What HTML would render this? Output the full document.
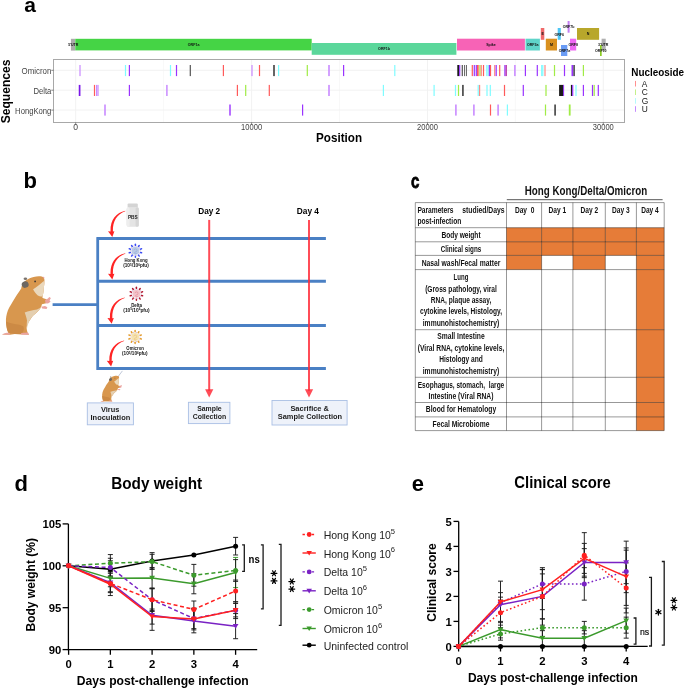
<!DOCTYPE html>
<html><head><meta charset="utf-8"><title>Figure</title>
<style>
html,body{margin:0;padding:0;background:#fff;}
body{width:685px;height:689px;overflow:hidden;}
svg{display:block;will-change:transform;font-family:"Liberation Sans", sans-serif;}
</style></head>
<body>
<svg width="685" height="689" viewBox="0 0 685 689">
<rect width="685" height="689" fill="#fff"/>
<text x="24.3" y="12.1" font-size="21" font-weight="bold" text-anchor="start" fill="#000" >a</text>
<rect x="70.9" y="38.8" width="4.4" height="11.8" fill="#ababab"/>
<rect x="75.3" y="38.8" width="236.4" height="11.6" fill="#45d445"/>
<rect x="311.7" y="43.0" width="144.7" height="11.8" fill="#5bd79b"/>
<rect x="457.0" y="38.7" width="67.9" height="11.8" fill="#f763b6"/>
<rect x="525.5" y="38.7" width="14.4" height="11.8" fill="#5fd4c9"/>
<rect x="540.8" y="28.0" width="3.5" height="11.8" fill="#f06a6a"/>
<rect x="545.8" y="38.7" width="11.2" height="11.8" fill="#d9901f"/>
<rect x="557.7" y="28.0" width="3.1" height="11.8" fill="#4dc6f5"/>
<rect x="561.0" y="45.0" width="6.3" height="11.0" fill="#6a9cf5"/>
<rect x="567.6" y="21.0" width="2.0" height="11.7" fill="#c27ef2"/>
<rect x="570.0" y="38.7" width="6.2" height="11.8" fill="#ef67f3"/>
<rect x="577.0" y="28.0" width="22.1" height="11.8" fill="#b8a72b"/>
<rect x="601.6" y="38.7" width="4.1" height="11.8" fill="#b0b0b0"/>
<rect x="600.0" y="45.0" width="1.7" height="11.0" fill="#8acb22"/>
<text x="73.3" y="45.9" font-size="3.6" font-weight="bold" text-anchor="middle" fill="#111" >5'UTR</text>
<text x="193.6" y="45.9" font-size="3.6" font-weight="bold" text-anchor="middle" fill="#111" >ORF1a</text>
<text x="384" y="50.3" font-size="3.6" font-weight="bold" text-anchor="middle" fill="#111" >ORF1b</text>
<text x="491" y="45.9" font-size="3.6" font-weight="bold" text-anchor="middle" fill="#111" >Spike</text>
<text x="532.7" y="45.9" font-size="3.6" font-weight="bold" text-anchor="middle" fill="#111" >ORF3a</text>
<text x="542.6" y="35.3" font-size="3.6" font-weight="bold" text-anchor="middle" fill="#111" >E</text>
<text x="551.4" y="45.9" font-size="3.6" font-weight="bold" text-anchor="middle" fill="#111" >M</text>
<text x="559.2" y="35.5" font-size="3.6" font-weight="bold" text-anchor="middle" fill="#111" >ORF6</text>
<text x="564.5" y="52.3" font-size="3.6" font-weight="bold" text-anchor="middle" fill="#111" >ORF7a</text>
<text x="568.6" y="28.3" font-size="3.6" font-weight="bold" text-anchor="middle" fill="#111" >ORF7b</text>
<text x="573.2" y="46.0" font-size="3.6" font-weight="bold" text-anchor="middle" fill="#111" >ORF8</text>
<text x="588" y="35.3" font-size="3.6" font-weight="bold" text-anchor="middle" fill="#111" >N</text>
<text x="603.2" y="46.0" font-size="3.6" font-weight="bold" text-anchor="middle" fill="#111" >3'UTR</text>
<text x="600.8" y="52.3" font-size="3.6" font-weight="bold" text-anchor="middle" fill="#111" >ORF10</text>
<rect x="53.5" y="59.5" width="571.0" height="63.0" fill="#fff"/>
<line x1="75.7" y1="59.5" x2="75.7" y2="122.5" stroke="#f0f0f0" stroke-width="0.9"/>
<line x1="251.6" y1="59.5" x2="251.6" y2="122.5" stroke="#f0f0f0" stroke-width="0.9"/>
<line x1="427.5" y1="59.5" x2="427.5" y2="122.5" stroke="#f0f0f0" stroke-width="0.9"/>
<line x1="603.3" y1="59.5" x2="603.3" y2="122.5" stroke="#f0f0f0" stroke-width="0.9"/>
<line x1="163.6" y1="59.5" x2="163.6" y2="122.5" stroke="#f4f4f4" stroke-width="0.6"/>
<line x1="339.5" y1="59.5" x2="339.5" y2="122.5" stroke="#f4f4f4" stroke-width="0.6"/>
<line x1="515.4" y1="59.5" x2="515.4" y2="122.5" stroke="#f4f4f4" stroke-width="0.6"/>
<line x1="53.5" y1="70.3" x2="624.5" y2="70.3" stroke="#f0f0f0" stroke-width="0.9"/>
<line x1="53.5" y1="90.2" x2="624.5" y2="90.2" stroke="#f0f0f0" stroke-width="0.9"/>
<line x1="53.5" y1="110.1" x2="624.5" y2="110.1" stroke="#f0f0f0" stroke-width="0.9"/>
<rect x="79.4" y="65.0" width="1.2" height="11.1" fill="#c98aff"/>
<rect x="124.9" y="65.0" width="1.2" height="11.1" fill="#7ffcff"/>
<rect x="128.8" y="65.0" width="1.2" height="11.1" fill="#9a33ff"/>
<rect x="169.9" y="65.0" width="1.2" height="11.1" fill="#7ffcff"/>
<rect x="175.9" y="65.0" width="1.2" height="11.1" fill="#9a33ff"/>
<rect x="189.7" y="65.0" width="1.2" height="11.1" fill="#555555"/>
<rect x="222.8" y="65.0" width="1.2" height="11.1" fill="#ff5a5a"/>
<rect x="251.4" y="65.0" width="1.2" height="11.1" fill="#c98aff"/>
<rect x="258.9" y="65.0" width="1.2" height="11.1" fill="#ff5a5a"/>
<rect x="273.1" y="65.0" width="1.8" height="11.1" fill="#555555"/>
<rect x="278.0" y="65.0" width="1.2" height="11.1" fill="#7ffcff"/>
<rect x="306.7" y="65.0" width="1.2" height="11.1" fill="#a0ec45"/>
<rect x="328.2" y="65.0" width="1.6" height="11.1" fill="#c98aff"/>
<rect x="343.0" y="65.0" width="1.2" height="11.1" fill="#9a33ff"/>
<rect x="394.2" y="65.0" width="1.2" height="11.1" fill="#7ffcff"/>
<rect x="457.3" y="65.0" width="1.8" height="11.1" fill="#1a1a1a"/>
<rect x="459.1" y="65.0" width="1.2" height="11.1" fill="#9a33ff"/>
<rect x="461.7" y="65.0" width="1.2" height="11.1" fill="#555555"/>
<rect x="464.15" y="65.0" width="0.9" height="11.1" fill="#555555"/>
<rect x="465.95" y="65.0" width="0.9" height="11.1" fill="#555555"/>
<rect x="471.7" y="65.0" width="1.2" height="11.1" fill="#ff5a5a"/>
<rect x="473.7" y="65.0" width="1.2" height="11.1" fill="#9a33ff"/>
<rect x="475.7" y="65.0" width="1.2" height="11.1" fill="#9a33ff"/>
<rect x="477.0" y="65.0" width="1.2" height="11.1" fill="#ff5a5a"/>
<rect x="478.0" y="65.0" width="1.2" height="11.1" fill="#ff8a85"/>
<rect x="479.4" y="65.0" width="1.2" height="11.1" fill="#a0ec45"/>
<rect x="480.7" y="65.0" width="1.2" height="11.1" fill="#ff8a85"/>
<rect x="482.9" y="65.0" width="1.2" height="11.1" fill="#ff5a5a"/>
<rect x="486.2" y="65.0" width="1.2" height="11.1" fill="#7ffcff"/>
<rect x="487.5" y="65.0" width="1.2" height="11.1" fill="#7ffcff"/>
<rect x="488.8" y="65.0" width="1.2" height="11.1" fill="#9a33ff"/>
<rect x="489.9" y="65.0" width="1.2" height="11.1" fill="#ff5a5a"/>
<rect x="494.1" y="65.0" width="1.2" height="11.1" fill="#ff8a85"/>
<rect x="495.6" y="65.0" width="1.2" height="11.1" fill="#9a33ff"/>
<rect x="499.1" y="65.0" width="1.2" height="11.1" fill="#ff5a5a"/>
<rect x="504.3" y="65.0" width="1.2" height="11.1" fill="#9a33ff"/>
<rect x="505.6" y="65.0" width="1.2" height="11.1" fill="#b0209f"/>
<rect x="514.1" y="65.0" width="1.6" height="11.1" fill="#c98aff"/>
<rect x="524.8" y="65.0" width="1.2" height="11.1" fill="#9a33ff"/>
<rect x="536.7" y="65.0" width="1.2" height="11.1" fill="#9a33ff"/>
<rect x="541.1" y="65.0" width="1.2" height="11.1" fill="#7ffcff"/>
<rect x="542.2" y="65.0" width="1.2" height="11.1" fill="#7ffcff"/>
<rect x="544.4" y="65.0" width="1.2" height="11.1" fill="#ff8a85"/>
<rect x="553.9" y="65.0" width="1.2" height="11.1" fill="#a0ec45"/>
<rect x="563.9" y="65.0" width="1.2" height="11.1" fill="#9a33ff"/>
<rect x="571.5" y="65.0" width="1.8" height="11.1" fill="#9a33ff"/>
<rect x="573.5" y="65.0" width="1.2" height="11.1" fill="#1a1a1a"/>
<rect x="582.8" y="65.0" width="1.2" height="11.1" fill="#a0ec45"/>
<rect x="78.75" y="84.9" width="1.7" height="11.1" fill="#7a16e8"/>
<rect x="93.9" y="84.9" width="1.2" height="11.1" fill="#ff5a5a"/>
<rect x="96.0" y="84.9" width="1.2" height="11.1" fill="#c98aff"/>
<rect x="97.4" y="84.9" width="1.2" height="11.1" fill="#c98aff"/>
<rect x="128.8" y="84.9" width="1.2" height="11.1" fill="#9a33ff"/>
<rect x="166.15" y="84.9" width="1.5" height="11.1" fill="#c98aff"/>
<rect x="236.8" y="84.9" width="1.2" height="11.1" fill="#ff5a5a"/>
<rect x="245.1" y="84.9" width="1.2" height="11.1" fill="#a0ec45"/>
<rect x="268.7" y="84.9" width="1.2" height="11.1" fill="#ff5a5a"/>
<rect x="328.2" y="84.9" width="1.6" height="11.1" fill="#c98aff"/>
<rect x="382.8" y="84.9" width="1.2" height="11.1" fill="#7ffcff"/>
<rect x="433.5" y="84.9" width="1.2" height="11.1" fill="#7ffcff"/>
<rect x="454.9" y="84.9" width="1.2" height="11.1" fill="#7ffcff"/>
<rect x="457.9" y="84.9" width="1.2" height="11.1" fill="#a0ec45"/>
<rect x="462.0" y="84.9" width="1.8" height="11.1" fill="#555555"/>
<rect x="477.6" y="84.9" width="1.2" height="11.1" fill="#7ffcff"/>
<rect x="479.0" y="84.9" width="1.2" height="11.1" fill="#ff8a85"/>
<rect x="486.4" y="84.9" width="1.2" height="11.1" fill="#7ffcff"/>
<rect x="489.7" y="84.9" width="1.2" height="11.1" fill="#7ffcff"/>
<rect x="503.9" y="84.9" width="1.2" height="11.1" fill="#ff5a5a"/>
<rect x="522.7" y="84.9" width="1.2" height="11.1" fill="#9a33ff"/>
<rect x="545.4" y="84.9" width="1.2" height="11.1" fill="#a0ec45"/>
<rect x="559.1" y="84.9" width="4.4" height="11.1" fill="#1a1a1a"/>
<rect x="563.1" y="84.9" width="1.0" height="11.1" fill="#9a33ff"/>
<rect x="570.9" y="84.9" width="1.2" height="11.1" fill="#1a1a1a"/>
<rect x="572.1" y="84.9" width="1.2" height="11.1" fill="#9a33ff"/>
<rect x="575.4" y="84.9" width="1.2" height="11.1" fill="#7ffcff"/>
<rect x="582.8" y="84.9" width="1.2" height="11.1" fill="#9a33ff"/>
<rect x="591.9" y="84.9" width="1.2" height="11.1" fill="#9a33ff"/>
<rect x="593.6" y="84.9" width="1.2" height="11.1" fill="#a0ec45"/>
<rect x="597.7" y="84.9" width="1.2" height="11.1" fill="#9a33ff"/>
<rect x="104.2" y="104.5" width="1.6" height="11.1" fill="#c98aff"/>
<rect x="229.3" y="104.5" width="1.4" height="11.1" fill="#9a33ff"/>
<rect x="302.0" y="104.5" width="1.2" height="11.1" fill="#9a33ff"/>
<rect x="455.1" y="104.5" width="1.6" height="11.1" fill="#c98aff"/>
<rect x="473.1" y="104.5" width="1.6" height="11.1" fill="#c98aff"/>
<rect x="489.9" y="104.5" width="1.2" height="11.1" fill="#ff5a5a"/>
<rect x="497.3" y="104.5" width="1.6" height="11.1" fill="#c98aff"/>
<rect x="506.8" y="104.5" width="1.2" height="11.1" fill="#7ffcff"/>
<rect x="544.9" y="104.5" width="1.2" height="11.1" fill="#a0ec45"/>
<rect x="554.2" y="104.5" width="1.8" height="11.1" fill="#555555"/>
<rect x="568.8" y="104.5" width="1.8" height="11.1" fill="#a0ec45"/>
<rect x="53.5" y="59.5" width="571.0" height="63.0" fill="none" stroke="#a8a8a8" stroke-width="1"/>
<text x="51.3" y="74.2" font-size="8.8" text-anchor="end" fill="#444" textLength="29.7" lengthAdjust="spacingAndGlyphs" >Omicron</text>
<line x1="51.3" y1="70.3" x2="53.5" y2="70.3" stroke="#555" stroke-width="0.7"/>
<text x="51.3" y="93.7" font-size="8.8" text-anchor="end" fill="#444" textLength="17.9" lengthAdjust="spacingAndGlyphs" >Delta</text>
<line x1="51.3" y1="90.2" x2="53.5" y2="90.2" stroke="#555" stroke-width="0.7"/>
<text x="51.3" y="114.1" font-size="8.8" text-anchor="end" fill="#444" textLength="36.2" lengthAdjust="spacingAndGlyphs" >HongKong</text>
<line x1="51.3" y1="110.10000000000001" x2="53.5" y2="110.10000000000001" stroke="#555" stroke-width="0.7"/>
<text x="75.7" y="130.0" font-size="8.6" text-anchor="middle" fill="#444" >0</text>
<line x1="75.7" y1="122.5" x2="75.7" y2="124.5" stroke="#555" stroke-width="0.7"/>
<text x="251.6" y="130.0" font-size="8.6" text-anchor="middle" fill="#444" textLength="21.0" lengthAdjust="spacingAndGlyphs" >10000</text>
<line x1="251.6" y1="122.5" x2="251.6" y2="124.5" stroke="#555" stroke-width="0.7"/>
<text x="427.5" y="130.0" font-size="8.6" text-anchor="middle" fill="#444" textLength="21.0" lengthAdjust="spacingAndGlyphs" >20000</text>
<line x1="427.5" y1="122.5" x2="427.5" y2="124.5" stroke="#555" stroke-width="0.7"/>
<text x="603.3" y="130.0" font-size="8.6" text-anchor="middle" fill="#444" textLength="21.0" lengthAdjust="spacingAndGlyphs" >30000</text>
<line x1="603.3" y1="122.5" x2="603.3" y2="124.5" stroke="#555" stroke-width="0.7"/>
<text x="339.1" y="141.9" font-size="12.8" font-weight="bold" text-anchor="middle" fill="#000" textLength="46.0" lengthAdjust="spacingAndGlyphs" >Position</text>
<text transform="translate(9.719999999999999,91.4) rotate(-90)" x="0" y="0" font-size="12" font-weight="bold" text-anchor="middle" textLength="63.9" lengthAdjust="spacingAndGlyphs">Sequences</text>
<text x="631.3" y="76.31" font-size="10.3" font-weight="bold" text-anchor="start" fill="#000" textLength="52.8" lengthAdjust="spacingAndGlyphs" >Nucleoside</text>
<rect x="635" y="80.9" width="1" height="5.6" fill="#ff8f8f"/>
<text x="641.8" y="86.72" font-size="8.4" text-anchor="start" fill="#1a1a1a" >A</text>
<rect x="635" y="89.4" width="1" height="5.6" fill="#c4f08a"/>
<text x="641.8" y="95.22" font-size="8.4" text-anchor="start" fill="#1a1a1a" >C</text>
<rect x="635" y="98.10000000000001" width="1" height="5.6" fill="#b4fafc"/>
<text x="641.8" y="103.92" font-size="8.4" text-anchor="start" fill="#1a1a1a" >G</text>
<rect x="635" y="106.2" width="1" height="5.6" fill="#c48cff"/>
<text x="641.8" y="112.02" font-size="8.4" text-anchor="start" fill="#1a1a1a" >U</text>
<text x="23.6" y="188.1" font-size="22" font-weight="bold" text-anchor="start" fill="#000" >b</text>
<line x1="97" y1="238.6" x2="325.9" y2="238.6" stroke="#4a80c4" stroke-width="3"/>
<line x1="97" y1="281.3" x2="325.9" y2="281.3" stroke="#4a80c4" stroke-width="3"/>
<line x1="97" y1="325.5" x2="325.9" y2="325.5" stroke="#4a80c4" stroke-width="3"/>
<line x1="97" y1="368.5" x2="325.9" y2="368.5" stroke="#4a80c4" stroke-width="3"/>
<line x1="97.7" y1="237.1" x2="97.7" y2="370.0" stroke="#4a80c4" stroke-width="2.8"/>
<line x1="52.6" y1="304.6" x2="97.7" y2="304.6" stroke="#4a80c4" stroke-width="2.8"/>
<path d="M125.3,210.8 C116.5,212.8 110.2,219.0 110.5,231.4 L108.0,231.2 L112.3,237.0 L114.4,231.2 L112.9,231.4 C112.6,221.0 117,214.2 125.3,211.3 Z" fill="#ff2424"/>
<path d="M125.3,253.3 C116.5,255.3 110.2,261.5 110.5,273.9 L108.0,273.7 L112.3,279.5 L114.4,273.7 L112.9,273.9 C112.6,263.5 117,256.7 125.3,253.8 Z" fill="#ff2424"/>
<path d="M124.7,297.6 C115.9,299.6 109.60000000000001,305.8 109.9,318.2 L107.4,318.0 L111.7,323.8 L113.80000000000001,318.0 L112.30000000000001,318.2 C112.0,307.8 116.4,301.0 124.7,298.1 Z" fill="#ff2424"/>
<path d="M124.1,340.40000000000003 C115.3,342.40000000000003 109.0,348.6 109.3,361.0 L106.8,360.8 L111.1,366.6 L113.2,360.8 L111.7,361.0 C111.39999999999999,350.6 115.8,343.8 124.1,340.90000000000003 Z" fill="#ff2424"/>
<line x1="209.2" y1="219.9" x2="209.2" y2="391" stroke="#ff2d3a" stroke-width="2" opacity="0.85"/>
<path d="M205.1,389.2 L213.29999999999998,389.2 L209.2,397.6 Z" fill="#ff2d3a" opacity="0.85"/>
<line x1="309.0" y1="219.9" x2="309.0" y2="391" stroke="#ff2d3a" stroke-width="2" opacity="0.85"/>
<path d="M304.9,389.2 L313.1,389.2 L309.0,397.6 Z" fill="#ff2d3a" opacity="0.85"/>
<text x="209.2" y="214.0" font-size="8.3" font-weight="bold" text-anchor="middle" fill="#000" textLength="22.0" lengthAdjust="spacingAndGlyphs" >Day 2</text>
<text x="307.9" y="214.0" font-size="8.3" font-weight="bold" text-anchor="middle" fill="#000" textLength="22.2" lengthAdjust="spacingAndGlyphs" >Day 4</text>
<rect x="87.3" y="402.9" width="46.1" height="21.9" fill="#eef2fa" stroke="#a9bfe4" stroke-width="0.9"/>
<rect x="188.4" y="402.3" width="41.5" height="21.3" fill="#eef2fa" stroke="#a9bfe4" stroke-width="0.9"/>
<rect x="272.0" y="400.5" width="75.1" height="24.5" fill="#eef2fa" stroke="#a9bfe4" stroke-width="0.9"/>
<text x="110.2" y="412.01" font-size="7.6" font-weight="bold" text-anchor="middle" fill="#1c1c1c" textLength="18.4" lengthAdjust="spacingAndGlyphs" >Virus</text>
<text x="110.4" y="420.41" font-size="7.6" font-weight="bold" text-anchor="middle" fill="#1c1c1c" textLength="39.8" lengthAdjust="spacingAndGlyphs" >Inoculation</text>
<text x="209.4" y="411.01" font-size="7.6" font-weight="bold" text-anchor="middle" fill="#1c1c1c" textLength="24.5" lengthAdjust="spacingAndGlyphs" >Sample</text>
<text x="209.4" y="419.41" font-size="7.6" font-weight="bold" text-anchor="middle" fill="#1c1c1c" textLength="33.5" lengthAdjust="spacingAndGlyphs" >Collection</text>
<text x="309.7" y="411.01" font-size="7.6" font-weight="bold" text-anchor="middle" fill="#1c1c1c" textLength="38.6" lengthAdjust="spacingAndGlyphs" >Sacrifice &amp;</text>
<text x="309.9" y="419.41" font-size="7.6" font-weight="bold" text-anchor="middle" fill="#1c1c1c" textLength="64.4" lengthAdjust="spacingAndGlyphs" >Sample Collection</text>
<rect x="127.6" y="203.4" width="10.2" height="4.4" rx="1" fill="#d4d4d4"/>
<rect x="126.6" y="207.3" width="12.2" height="19.4" rx="2.2" fill="#e4e4e4"/>
<rect x="126.6" y="207.3" width="3" height="19.4" rx="1.5" fill="#eeeeee"/>
<rect x="135.6" y="207.3" width="3.2" height="19.4" rx="1.5" fill="#d6d6d6"/>
<text x="132.8" y="219.0" font-size="4.8" font-weight="bold" text-anchor="middle" fill="#222" textLength="9.8" lengthAdjust="spacingAndGlyphs" >PBS</text>
<circle cx="136.91" cy="246.14" r="0.55" fill="#c8b0d8"/>
<circle cx="139.36" cy="247.92" r="0.55" fill="#c8b0d8"/>
<circle cx="140.30" cy="250.80" r="0.55" fill="#c8b0d8"/>
<circle cx="139.36" cy="253.68" r="0.55" fill="#c8b0d8"/>
<circle cx="136.91" cy="255.46" r="0.55" fill="#c8b0d8"/>
<circle cx="133.89" cy="255.46" r="0.55" fill="#c8b0d8"/>
<circle cx="131.44" cy="253.68" r="0.55" fill="#c8b0d8"/>
<circle cx="130.50" cy="250.80" r="0.55" fill="#c8b0d8"/>
<circle cx="131.44" cy="247.92" r="0.55" fill="#c8b0d8"/>
<circle cx="133.89" cy="246.14" r="0.55" fill="#c8b0d8"/>
<circle cx="135.4" cy="250.8" r="4.0" fill="#bccbe6"/>
<line x1="135.40" y1="245.50" x2="135.40" y2="244.30" stroke="#3b4cf2" stroke-width="1.45" stroke-linecap="round"/>
<line x1="138.52" y1="246.51" x2="139.22" y2="245.54" stroke="#3b4cf2" stroke-width="1.45" stroke-linecap="round"/>
<line x1="140.44" y1="249.16" x2="141.58" y2="248.79" stroke="#3b4cf2" stroke-width="1.45" stroke-linecap="round"/>
<line x1="140.44" y1="252.44" x2="141.58" y2="252.81" stroke="#3b4cf2" stroke-width="1.45" stroke-linecap="round"/>
<line x1="138.52" y1="255.09" x2="139.22" y2="256.06" stroke="#3b4cf2" stroke-width="1.45" stroke-linecap="round"/>
<line x1="135.40" y1="256.10" x2="135.40" y2="257.30" stroke="#3b4cf2" stroke-width="1.45" stroke-linecap="round"/>
<line x1="132.28" y1="255.09" x2="131.58" y2="256.06" stroke="#3b4cf2" stroke-width="1.45" stroke-linecap="round"/>
<line x1="130.36" y1="252.44" x2="129.22" y2="252.81" stroke="#3b4cf2" stroke-width="1.45" stroke-linecap="round"/>
<line x1="130.36" y1="249.16" x2="129.22" y2="248.79" stroke="#3b4cf2" stroke-width="1.45" stroke-linecap="round"/>
<line x1="132.28" y1="246.51" x2="131.58" y2="245.54" stroke="#3b4cf2" stroke-width="1.45" stroke-linecap="round"/>
<path d="M134.0,250.20000000000002 a1.5,1.5 0 1 1 1.4,1.7 a1,1 0 1 0 1.2,1" fill="none" stroke="#7e98d0" stroke-width="0.5" opacity="0.8"/>
<circle cx="137.91" cy="289.14" r="0.55" fill="#c8b0d8"/>
<circle cx="140.36" cy="290.92" r="0.55" fill="#c8b0d8"/>
<circle cx="141.30" cy="293.80" r="0.55" fill="#c8b0d8"/>
<circle cx="140.36" cy="296.68" r="0.55" fill="#c8b0d8"/>
<circle cx="137.91" cy="298.46" r="0.55" fill="#c8b0d8"/>
<circle cx="134.89" cy="298.46" r="0.55" fill="#c8b0d8"/>
<circle cx="132.44" cy="296.68" r="0.55" fill="#c8b0d8"/>
<circle cx="131.50" cy="293.80" r="0.55" fill="#c8b0d8"/>
<circle cx="132.44" cy="290.92" r="0.55" fill="#c8b0d8"/>
<circle cx="134.89" cy="289.14" r="0.55" fill="#c8b0d8"/>
<circle cx="136.4" cy="293.8" r="4.0" fill="#f2c4cb"/>
<line x1="136.40" y1="288.50" x2="136.40" y2="287.30" stroke="#b0182f" stroke-width="1.45" stroke-linecap="round"/>
<line x1="139.52" y1="289.51" x2="140.22" y2="288.54" stroke="#b0182f" stroke-width="1.45" stroke-linecap="round"/>
<line x1="141.44" y1="292.16" x2="142.58" y2="291.79" stroke="#b0182f" stroke-width="1.45" stroke-linecap="round"/>
<line x1="141.44" y1="295.44" x2="142.58" y2="295.81" stroke="#b0182f" stroke-width="1.45" stroke-linecap="round"/>
<line x1="139.52" y1="298.09" x2="140.22" y2="299.06" stroke="#b0182f" stroke-width="1.45" stroke-linecap="round"/>
<line x1="136.40" y1="299.10" x2="136.40" y2="300.30" stroke="#b0182f" stroke-width="1.45" stroke-linecap="round"/>
<line x1="133.28" y1="298.09" x2="132.58" y2="299.06" stroke="#b0182f" stroke-width="1.45" stroke-linecap="round"/>
<line x1="131.36" y1="295.44" x2="130.22" y2="295.81" stroke="#b0182f" stroke-width="1.45" stroke-linecap="round"/>
<line x1="131.36" y1="292.16" x2="130.22" y2="291.79" stroke="#b0182f" stroke-width="1.45" stroke-linecap="round"/>
<line x1="133.28" y1="289.51" x2="132.58" y2="288.54" stroke="#b0182f" stroke-width="1.45" stroke-linecap="round"/>
<path d="M135.0,293.2 a1.5,1.5 0 1 1 1.4,1.7 a1,1 0 1 0 1.2,1" fill="none" stroke="#e06878" stroke-width="0.5" opacity="0.8"/>
<circle cx="136.61" cy="332.34" r="0.55" fill="#c8b0d8"/>
<circle cx="139.06" cy="334.12" r="0.55" fill="#c8b0d8"/>
<circle cx="140.00" cy="337.00" r="0.55" fill="#c8b0d8"/>
<circle cx="139.06" cy="339.88" r="0.55" fill="#c8b0d8"/>
<circle cx="136.61" cy="341.66" r="0.55" fill="#c8b0d8"/>
<circle cx="133.59" cy="341.66" r="0.55" fill="#c8b0d8"/>
<circle cx="131.14" cy="339.88" r="0.55" fill="#c8b0d8"/>
<circle cx="130.20" cy="337.00" r="0.55" fill="#c8b0d8"/>
<circle cx="131.14" cy="334.12" r="0.55" fill="#c8b0d8"/>
<circle cx="133.59" cy="332.34" r="0.55" fill="#c8b0d8"/>
<circle cx="135.1" cy="337.0" r="4.0" fill="#f5e2b0"/>
<line x1="135.10" y1="331.70" x2="135.10" y2="330.50" stroke="#e39b2b" stroke-width="1.45" stroke-linecap="round"/>
<line x1="138.22" y1="332.71" x2="138.92" y2="331.74" stroke="#e39b2b" stroke-width="1.45" stroke-linecap="round"/>
<line x1="140.14" y1="335.36" x2="141.28" y2="334.99" stroke="#e39b2b" stroke-width="1.45" stroke-linecap="round"/>
<line x1="140.14" y1="338.64" x2="141.28" y2="339.01" stroke="#e39b2b" stroke-width="1.45" stroke-linecap="round"/>
<line x1="138.22" y1="341.29" x2="138.92" y2="342.26" stroke="#e39b2b" stroke-width="1.45" stroke-linecap="round"/>
<line x1="135.10" y1="342.30" x2="135.10" y2="343.50" stroke="#e39b2b" stroke-width="1.45" stroke-linecap="round"/>
<line x1="131.98" y1="341.29" x2="131.28" y2="342.26" stroke="#e39b2b" stroke-width="1.45" stroke-linecap="round"/>
<line x1="130.06" y1="338.64" x2="128.92" y2="339.01" stroke="#e39b2b" stroke-width="1.45" stroke-linecap="round"/>
<line x1="130.06" y1="335.36" x2="128.92" y2="334.99" stroke="#e39b2b" stroke-width="1.45" stroke-linecap="round"/>
<line x1="131.98" y1="332.71" x2="131.28" y2="331.74" stroke="#e39b2b" stroke-width="1.45" stroke-linecap="round"/>
<path d="M133.7,336.4 a1.5,1.5 0 1 1 1.4,1.7 a1,1 0 1 0 1.2,1" fill="none" stroke="#e0b060" stroke-width="0.5" opacity="0.8"/>
<text x="136.0" y="262.36" font-size="5.4" font-weight="bold" text-anchor="middle" fill="#111" textLength="23.0" lengthAdjust="spacingAndGlyphs" >Hong Kong</text>
<text x="136.0" y="267.42" font-size="5.0" font-weight="bold" text-anchor="middle" fill="#111" textLength="25.6" lengthAdjust="spacingAndGlyphs" >(10<tspan font-size="3.3" dy="-1.5">5</tspan><tspan dy="1.5">/10</tspan><tspan font-size="3.3" dy="-1.5">6</tspan><tspan dy="1.5">pfu)</tspan></text>
<text x="136.5" y="306.96" font-size="5.4" font-weight="bold" text-anchor="middle" fill="#111" textLength="10.7" lengthAdjust="spacingAndGlyphs" >Delta</text>
<text x="136.4" y="311.72" font-size="5.0" font-weight="bold" text-anchor="middle" fill="#111" textLength="26.2" lengthAdjust="spacingAndGlyphs" >(10<tspan font-size="3.3" dy="-1.5">5</tspan><tspan dy="1.5">/10</tspan><tspan font-size="3.3" dy="-1.5">6</tspan><tspan dy="1.5">pfu)</tspan></text>
<text x="135.1" y="350.26" font-size="5.4" font-weight="bold" text-anchor="middle" fill="#111" textLength="17.6" lengthAdjust="spacingAndGlyphs" >Omicron</text>
<text x="134.8" y="355.22" font-size="5.0" font-weight="bold" text-anchor="middle" fill="#111" textLength="25.5" lengthAdjust="spacingAndGlyphs" >(10<tspan font-size="3.3" dy="-1.5">5</tspan><tspan dy="1.5">/10</tspan><tspan font-size="3.3" dy="-1.5">6</tspan><tspan dy="1.5">pfu)</tspan></text>
<defs><g id="ham">
<path d="M41.95,1.0 C40,-0.3 36,-0.6 31.6,0.5 C28,1.5 25,2.8 22.5,5 C20.5,7 19.5,10 19.2,12 C16.5,16 13,21 10.8,25.2 C8.5,29 6,33 4.9,37.1 C3.8,41 3.6,45 4.4,48.9 C4.8,52 5.5,54.5 6.4,56.3 L0,58 L8,58.3 L12.8,57.6 L19.2,57.8 L27.1,58.3 C26,57 25.3,56 25.2,54.9 C24.7,53 24.6,51.5 24.7,50.9 C25,49.5 25.2,48 25.7,47 C26.3,46 27,45 27.6,44 C28.5,43 29,42 29.6,41 C31,39.5 32,38.3 33.6,37.1 C35,35.8 36.5,34.5 37.5,33.1 C38.5,32 39.2,31 39.5,29.7 C40.2,27 40.4,23 40.5,20.3 C41,18 41.3,16.5 41.5,15.4 C41.8,13 42,11.5 42,10.4 C42.3,8.5 42.5,7 42.4,5.5 C42.5,4 42.5,2.5 41.95,1.0 Z" fill="#d8974e"/>
<path d="M4,45 C4.2,50 5,54 6.4,56.3 L12.8,57.6 L19.2,57.8 C21.5,56 22.5,53 21.5,50 C18,47.5 11,48 4,45 Z" fill="#cc8a45"/>
<path d="M31.1,12.9 C34,11 38,8 41.8,4.5 C42.3,8 42,13 41.3,17 C41,18.5 40.6,19.5 40.2,20.2 C38.5,20 36.5,19.5 35.5,18.8 C33.5,17 32,15 31.1,12.9 Z" fill="#ead8bc"/>
<path d="M22.7,36.1 C26,34.5 31,33.5 35,33 C37,32.5 38.5,31.5 39.5,29.7 C38.5,32 37,33.8 35,35.5 C32,38 29.5,40.5 27.6,44 C26.5,46 25.5,49 25,52 C24.5,49 24.8,46 25,44 C24.5,41 23.5,38.5 22.7,36.1 Z" fill="#e4cfb0"/>
<path d="M37.5,20.5 L44.5,22.8 L45,26.5 L39,28 Z" fill="#d8974e"/>
<ellipse cx="23.2" cy="8.2" rx="3.5" ry="3.2" transform="rotate(-20 23.2 8.2)" fill="#6d6762"/>
<ellipse cx="23.4" cy="2.3" rx="1.8" ry="1.2" fill="#7a746f"/>
<circle cx="33.1" cy="5.0" r="0.85" fill="#333"/>
<circle cx="41.6" cy="1.2" r="0.8" fill="#e9a0a0"/>
<path d="M43,23.5 L46,22 L47.2,20.6 L48.9,21.6 L47.6,24 L48.6,25.4 L46,27.2 L43.5,26.8 Z" fill="#eaa3a0"/>
<path d="M39.3,30.4 L43,29.6 L45.4,30.8 L44.6,32.6 L40.2,32.1 Z" fill="#eaa3a0"/>
<path d="M0,58 C2,56.8 4,56.3 6.4,56.3 L8,57.2 L8,58.3 Z" fill="#eaa3a0"/>
<path d="M19.2,56.6 L26,56.1 L27.1,58.3 L19.2,58.3 Z" fill="#eaa3a0"/>
</g></defs>
<use href="#ham" transform="translate(2,276.4)"/>
<use href="#ham" transform="translate(100.4,375.9) scale(0.44)"/>
<line x1="118.4" y1="376.2" x2="122.4" y2="370.9" stroke="#8090b0" stroke-width="0.5"/>
<text x="411.0" y="187.8" font-size="21" font-weight="bold" text-anchor="start" fill="#000" textLength="8.4" lengthAdjust="spacingAndGlyphs" stroke="#000" stroke-width="0.8">c</text>
<text x="586.0" y="195.2" font-size="13.2" font-weight="bold" text-anchor="middle" fill="#111" textLength="122.4" lengthAdjust="spacingAndGlyphs" >Hong Kong/Delta/Omicron</text>
<line x1="506.8" y1="199.7" x2="662.6" y2="199.7" stroke="#444" stroke-width="0.9"/>
<rect x="415.3" y="202.6" width="248.9" height="228.0" fill="#fff"/>
<rect x="506.5" y="227.7" width="35.10" height="14.10" fill="#e67c38"/>
<rect x="541.6" y="227.7" width="31.30" height="14.10" fill="#e67c38"/>
<rect x="572.9" y="227.7" width="32.40" height="14.10" fill="#e67c38"/>
<rect x="605.3" y="227.7" width="31.10" height="14.10" fill="#e67c38"/>
<rect x="636.4" y="227.7" width="27.80" height="14.10" fill="#e67c38"/>
<rect x="506.5" y="241.8" width="35.10" height="13.60" fill="#e67c38"/>
<rect x="541.6" y="241.8" width="31.30" height="13.60" fill="#e67c38"/>
<rect x="572.9" y="241.8" width="32.40" height="13.60" fill="#e67c38"/>
<rect x="605.3" y="241.8" width="31.10" height="13.60" fill="#e67c38"/>
<rect x="636.4" y="241.8" width="27.80" height="13.60" fill="#e67c38"/>
<rect x="506.5" y="255.4" width="35.10" height="14.20" fill="#e67c38"/>
<rect x="572.9" y="255.4" width="32.40" height="14.20" fill="#e67c38"/>
<rect x="636.4" y="255.4" width="27.80" height="14.20" fill="#e67c38"/>
<rect x="636.4" y="269.6" width="27.80" height="60.10" fill="#e67c38"/>
<rect x="636.4" y="329.7" width="27.80" height="47.60" fill="#e67c38"/>
<rect x="636.4" y="377.3" width="27.80" height="25.20" fill="#e67c38"/>
<rect x="636.4" y="402.5" width="27.80" height="14.40" fill="#e67c38"/>
<rect x="636.4" y="416.9" width="27.80" height="13.70" fill="#e67c38"/>
<line x1="415.3" y1="202.6" x2="664.2" y2="202.6" stroke="#000" stroke-opacity="0.45" stroke-width="0.9"/>
<line x1="415.3" y1="227.7" x2="664.2" y2="227.7" stroke="#000" stroke-opacity="0.45" stroke-width="0.9"/>
<line x1="415.3" y1="241.8" x2="664.2" y2="241.8" stroke="#000" stroke-opacity="0.45" stroke-width="0.9"/>
<line x1="415.3" y1="255.4" x2="664.2" y2="255.4" stroke="#000" stroke-opacity="0.45" stroke-width="0.9"/>
<line x1="415.3" y1="269.6" x2="664.2" y2="269.6" stroke="#000" stroke-opacity="0.45" stroke-width="0.9"/>
<line x1="415.3" y1="329.7" x2="664.2" y2="329.7" stroke="#000" stroke-opacity="0.45" stroke-width="0.9"/>
<line x1="415.3" y1="377.3" x2="664.2" y2="377.3" stroke="#000" stroke-opacity="0.45" stroke-width="0.9"/>
<line x1="415.3" y1="402.5" x2="664.2" y2="402.5" stroke="#000" stroke-opacity="0.45" stroke-width="0.9"/>
<line x1="415.3" y1="416.9" x2="664.2" y2="416.9" stroke="#000" stroke-opacity="0.45" stroke-width="0.9"/>
<line x1="415.3" y1="430.6" x2="664.2" y2="430.6" stroke="#000" stroke-opacity="0.45" stroke-width="0.9"/>
<line x1="415.3" y1="202.6" x2="415.3" y2="430.6" stroke="#000" stroke-opacity="0.45" stroke-width="0.9"/>
<line x1="506.5" y1="202.6" x2="506.5" y2="430.6" stroke="#000" stroke-opacity="0.45" stroke-width="0.9"/>
<line x1="541.6" y1="202.6" x2="541.6" y2="430.6" stroke="#000" stroke-opacity="0.45" stroke-width="0.9"/>
<line x1="572.9" y1="202.6" x2="572.9" y2="430.6" stroke="#000" stroke-opacity="0.45" stroke-width="0.9"/>
<line x1="605.3" y1="202.6" x2="605.3" y2="430.6" stroke="#000" stroke-opacity="0.45" stroke-width="0.9"/>
<line x1="636.4" y1="202.6" x2="636.4" y2="430.6" stroke="#000" stroke-opacity="0.45" stroke-width="0.9"/>
<line x1="664.2" y1="202.6" x2="664.2" y2="430.6" stroke="#000" stroke-opacity="0.45" stroke-width="0.9"/>
<text x="417.4" y="212.82" font-size="8.2" font-weight="bold" text-anchor="start" fill="#111" textLength="36.1" lengthAdjust="spacingAndGlyphs" >Parameters</text>
<text x="504.6" y="212.82" font-size="8.2" font-weight="bold" text-anchor="end" fill="#111" textLength="42.3" lengthAdjust="spacingAndGlyphs" >studied/Days</text>
<text x="417.4" y="224.02" font-size="8.2" font-weight="bold" text-anchor="start" fill="#111" textLength="43.9" lengthAdjust="spacingAndGlyphs" >post-infection</text>
<text x="524.6" y="212.92" font-size="8.2" font-weight="bold" text-anchor="middle" fill="#111" textLength="19.4" lengthAdjust="spacingAndGlyphs" >Day&#160; 0</text>
<text x="557.4" y="212.92" font-size="8.2" font-weight="bold" text-anchor="middle" fill="#111" textLength="17.6" lengthAdjust="spacingAndGlyphs" >Day 1</text>
<text x="589.3" y="212.92" font-size="8.2" font-weight="bold" text-anchor="middle" fill="#111" textLength="17.6" lengthAdjust="spacingAndGlyphs" >Day 2</text>
<text x="620.9" y="212.92" font-size="8.2" font-weight="bold" text-anchor="middle" fill="#111" textLength="17.6" lengthAdjust="spacingAndGlyphs" >Day 3</text>
<text x="650.0" y="212.92" font-size="8.2" font-weight="bold" text-anchor="middle" fill="#111" textLength="17.6" lengthAdjust="spacingAndGlyphs" >Day 4</text>
<text x="461.0" y="237.92" font-size="8.2" font-weight="bold" text-anchor="middle" fill="#111" textLength="39.2" lengthAdjust="spacingAndGlyphs" >Body weight</text>
<text x="461.0" y="251.62" font-size="8.2" font-weight="bold" text-anchor="middle" fill="#111" textLength="40.4" lengthAdjust="spacingAndGlyphs" >Clinical signs</text>
<text x="461.0" y="265.52" font-size="8.2" font-weight="bold" text-anchor="middle" fill="#111" textLength="78.7" lengthAdjust="spacingAndGlyphs" >Nasal wash/Fecal matter</text>
<text x="461.0" y="279.72" font-size="8.2" font-weight="bold" text-anchor="middle" fill="#111" textLength="14.8" lengthAdjust="spacingAndGlyphs" >Lung</text>
<text x="461.0" y="291.82" font-size="8.2" font-weight="bold" text-anchor="middle" fill="#111" textLength="71.7" lengthAdjust="spacingAndGlyphs" >(Gross pathology, viral</text>
<text x="461.0" y="303.12" font-size="8.2" font-weight="bold" text-anchor="middle" fill="#111" textLength="60.5" lengthAdjust="spacingAndGlyphs" >RNA, plaque assay,</text>
<text x="461.0" y="314.22" font-size="8.2" font-weight="bold" text-anchor="middle" fill="#111" textLength="82.0" lengthAdjust="spacingAndGlyphs" >cytokine levels, Histology,</text>
<text x="461.0" y="325.82" font-size="8.2" font-weight="bold" text-anchor="middle" fill="#111" textLength="76.5" lengthAdjust="spacingAndGlyphs" >immunohistochemistry)</text>
<text x="461.0" y="339.42" font-size="8.2" font-weight="bold" text-anchor="middle" fill="#111" textLength="47.4" lengthAdjust="spacingAndGlyphs" >Small Intestine</text>
<text x="461.0" y="351.02" font-size="8.2" font-weight="bold" text-anchor="middle" fill="#111" textLength="86.5" lengthAdjust="spacingAndGlyphs" >(Viral RNA, cytokine levels,</text>
<text x="461.0" y="362.12" font-size="8.2" font-weight="bold" text-anchor="middle" fill="#111" textLength="43.7" lengthAdjust="spacingAndGlyphs" >Histology and</text>
<text x="461.0" y="373.52" font-size="8.2" font-weight="bold" text-anchor="middle" fill="#111" textLength="76.5" lengthAdjust="spacingAndGlyphs" >immunohistochemistry)</text>
<text x="461.0" y="387.62" font-size="8.2" font-weight="bold" text-anchor="middle" fill="#111" textLength="86.5" lengthAdjust="spacingAndGlyphs" >Esophagus, stomach,&#160; large</text>
<text x="461.0" y="398.72" font-size="8.2" font-weight="bold" text-anchor="middle" fill="#111" textLength="64.9" lengthAdjust="spacingAndGlyphs" >Intestine (Viral RNA)</text>
<text x="461.0" y="412.22" font-size="8.2" font-weight="bold" text-anchor="middle" fill="#111" textLength="70.4" lengthAdjust="spacingAndGlyphs" >Blood for Hematology</text>
<text x="461.0" y="426.62" font-size="8.2" font-weight="bold" text-anchor="middle" fill="#111" textLength="56.8" lengthAdjust="spacingAndGlyphs" >Fecal Microbiome</text>
<text x="14.5" y="491.2" font-size="22" font-weight="bold" text-anchor="start" fill="#000" >d</text>
<text x="156.7" y="489.4" font-size="16.3" font-weight="bold" text-anchor="middle" fill="#000" textLength="91.0" lengthAdjust="spacingAndGlyphs" >Body weight</text>
<line x1="68.4" y1="523.9" x2="68.4" y2="650.2" stroke="#000" stroke-width="1.3"/>
<line x1="67.8" y1="649.6" x2="257.2" y2="649.6" stroke="#000" stroke-width="1.3"/>
<line x1="62.6" y1="523.90" x2="68.4" y2="523.90" stroke="#000" stroke-width="1.3"/>
<text x="61.3" y="528.0" font-size="11.3" font-weight="bold" text-anchor="end" fill="#000" >105</text>
<line x1="62.6" y1="565.80" x2="68.4" y2="565.80" stroke="#000" stroke-width="1.3"/>
<text x="61.3" y="569.9" font-size="11.3" font-weight="bold" text-anchor="end" fill="#000" >100</text>
<line x1="62.6" y1="607.70" x2="68.4" y2="607.70" stroke="#000" stroke-width="1.3"/>
<text x="61.3" y="611.8" font-size="11.3" font-weight="bold" text-anchor="end" fill="#000" >95</text>
<line x1="62.6" y1="649.60" x2="68.4" y2="649.60" stroke="#000" stroke-width="1.3"/>
<text x="61.3" y="653.7" font-size="11.3" font-weight="bold" text-anchor="end" fill="#000" >90</text>
<line x1="68.60" y1="649.6" x2="68.60" y2="654.8" stroke="#000" stroke-width="1.3"/>
<text x="68.6" y="667.6" font-size="11.3" font-weight="bold" text-anchor="middle" fill="#000" >0</text>
<line x1="110.35" y1="649.6" x2="110.35" y2="654.8" stroke="#000" stroke-width="1.3"/>
<text x="110.35" y="667.6" font-size="11.3" font-weight="bold" text-anchor="middle" fill="#000" >1</text>
<line x1="152.10" y1="649.6" x2="152.10" y2="654.8" stroke="#000" stroke-width="1.3"/>
<text x="152.1" y="667.6" font-size="11.3" font-weight="bold" text-anchor="middle" fill="#000" >2</text>
<line x1="193.85" y1="649.6" x2="193.85" y2="654.8" stroke="#000" stroke-width="1.3"/>
<text x="193.85" y="667.6" font-size="11.3" font-weight="bold" text-anchor="middle" fill="#000" >3</text>
<line x1="235.60" y1="649.6" x2="235.60" y2="654.8" stroke="#000" stroke-width="1.3"/>
<text x="235.6" y="667.6" font-size="11.3" font-weight="bold" text-anchor="middle" fill="#000" >4</text>
<text x="162.8" y="685.2" font-size="12" font-weight="bold" text-anchor="middle" fill="#000" textLength="171.9" lengthAdjust="spacingAndGlyphs" >Days post-challenge infection</text>
<text transform="translate(35.0,584.8) rotate(-90)" x="0" y="0" font-size="12" font-weight="bold" text-anchor="middle" textLength="93.5" lengthAdjust="spacingAndGlyphs">Body weight (%)</text>
<line x1="110.35" y1="560.77" x2="110.35" y2="577.53" stroke="#1a1a1a" stroke-width="0.95"/>
<line x1="107.85" y1="560.77" x2="112.85" y2="560.77" stroke="#1a1a1a" stroke-width="0.95"/>
<line x1="107.85" y1="577.53" x2="112.85" y2="577.53" stroke="#1a1a1a" stroke-width="0.95"/>
<line x1="152.10" y1="552.64" x2="152.10" y2="569.40" stroke="#1a1a1a" stroke-width="0.95"/>
<line x1="149.60" y1="552.64" x2="154.60" y2="552.64" stroke="#1a1a1a" stroke-width="0.95"/>
<line x1="149.60" y1="569.40" x2="154.60" y2="569.40" stroke="#1a1a1a" stroke-width="0.95"/>
<line x1="235.60" y1="537.39" x2="235.60" y2="554.99" stroke="#1a1a1a" stroke-width="0.95"/>
<line x1="233.10" y1="537.39" x2="238.10" y2="537.39" stroke="#1a1a1a" stroke-width="0.95"/>
<line x1="233.10" y1="554.99" x2="238.10" y2="554.99" stroke="#1a1a1a" stroke-width="0.95"/>
<line x1="110.35" y1="569.99" x2="110.35" y2="586.75" stroke="#1a1a1a" stroke-width="0.95"/>
<line x1="107.85" y1="569.99" x2="112.85" y2="569.99" stroke="#1a1a1a" stroke-width="0.95"/>
<line x1="107.85" y1="586.75" x2="112.85" y2="586.75" stroke="#1a1a1a" stroke-width="0.95"/>
<line x1="152.10" y1="567.48" x2="152.10" y2="588.43" stroke="#1a1a1a" stroke-width="0.95"/>
<line x1="149.60" y1="567.48" x2="154.60" y2="567.48" stroke="#1a1a1a" stroke-width="0.95"/>
<line x1="149.60" y1="588.43" x2="154.60" y2="588.43" stroke="#1a1a1a" stroke-width="0.95"/>
<line x1="193.85" y1="573.68" x2="193.85" y2="593.79" stroke="#1a1a1a" stroke-width="0.95"/>
<line x1="191.35" y1="573.68" x2="196.35" y2="573.68" stroke="#1a1a1a" stroke-width="0.95"/>
<line x1="191.35" y1="593.79" x2="196.35" y2="593.79" stroke="#1a1a1a" stroke-width="0.95"/>
<line x1="235.60" y1="557.42" x2="235.60" y2="587.59" stroke="#3b9a2c" stroke-width="0.95"/>
<line x1="233.10" y1="557.42" x2="238.10" y2="557.42" stroke="#3b9a2c" stroke-width="0.95"/>
<line x1="233.10" y1="587.59" x2="238.10" y2="587.59" stroke="#3b9a2c" stroke-width="0.95"/>
<line x1="110.35" y1="554.57" x2="110.35" y2="572.00" stroke="#1a1a1a" stroke-width="0.95"/>
<line x1="107.85" y1="554.57" x2="112.85" y2="554.57" stroke="#1a1a1a" stroke-width="0.95"/>
<line x1="107.85" y1="572.00" x2="112.85" y2="572.00" stroke="#1a1a1a" stroke-width="0.95"/>
<line x1="152.10" y1="554.32" x2="152.10" y2="568.90" stroke="#1a1a1a" stroke-width="0.95"/>
<line x1="149.60" y1="554.32" x2="154.60" y2="554.32" stroke="#1a1a1a" stroke-width="0.95"/>
<line x1="149.60" y1="568.90" x2="154.60" y2="568.90" stroke="#1a1a1a" stroke-width="0.95"/>
<line x1="193.85" y1="564.38" x2="193.85" y2="586.16" stroke="#1a1a1a" stroke-width="0.95"/>
<line x1="191.35" y1="564.38" x2="196.35" y2="564.38" stroke="#1a1a1a" stroke-width="0.95"/>
<line x1="191.35" y1="586.16" x2="196.35" y2="586.16" stroke="#1a1a1a" stroke-width="0.95"/>
<line x1="235.60" y1="559.60" x2="235.60" y2="581.39" stroke="#1a1a1a" stroke-width="0.95"/>
<line x1="233.10" y1="559.60" x2="238.10" y2="559.60" stroke="#1a1a1a" stroke-width="0.95"/>
<line x1="233.10" y1="581.39" x2="238.10" y2="581.39" stroke="#1a1a1a" stroke-width="0.95"/>
<line x1="110.35" y1="573.34" x2="110.35" y2="591.78" stroke="#1a1a1a" stroke-width="0.95"/>
<line x1="107.85" y1="573.34" x2="112.85" y2="573.34" stroke="#1a1a1a" stroke-width="0.95"/>
<line x1="107.85" y1="591.78" x2="112.85" y2="591.78" stroke="#1a1a1a" stroke-width="0.95"/>
<line x1="152.10" y1="600.16" x2="152.10" y2="630.33" stroke="#1a1a1a" stroke-width="0.95"/>
<line x1="149.60" y1="600.16" x2="154.60" y2="600.16" stroke="#1a1a1a" stroke-width="0.95"/>
<line x1="149.60" y1="630.33" x2="154.60" y2="630.33" stroke="#1a1a1a" stroke-width="0.95"/>
<line x1="193.85" y1="609.38" x2="193.85" y2="632.84" stroke="#1a1a1a" stroke-width="0.95"/>
<line x1="191.35" y1="609.38" x2="196.35" y2="609.38" stroke="#1a1a1a" stroke-width="0.95"/>
<line x1="191.35" y1="632.84" x2="196.35" y2="632.84" stroke="#1a1a1a" stroke-width="0.95"/>
<line x1="235.60" y1="613.57" x2="235.60" y2="638.71" stroke="#1a1a1a" stroke-width="0.95"/>
<line x1="233.10" y1="613.57" x2="238.10" y2="613.57" stroke="#1a1a1a" stroke-width="0.95"/>
<line x1="233.10" y1="638.71" x2="238.10" y2="638.71" stroke="#1a1a1a" stroke-width="0.95"/>
<line x1="110.35" y1="558.26" x2="110.35" y2="576.69" stroke="#1a1a1a" stroke-width="0.95"/>
<line x1="107.85" y1="558.26" x2="112.85" y2="558.26" stroke="#1a1a1a" stroke-width="0.95"/>
<line x1="107.85" y1="576.69" x2="112.85" y2="576.69" stroke="#1a1a1a" stroke-width="0.95"/>
<line x1="152.10" y1="588.84" x2="152.10" y2="610.63" stroke="#1a1a1a" stroke-width="0.95"/>
<line x1="149.60" y1="588.84" x2="154.60" y2="588.84" stroke="#1a1a1a" stroke-width="0.95"/>
<line x1="149.60" y1="610.63" x2="154.60" y2="610.63" stroke="#1a1a1a" stroke-width="0.95"/>
<line x1="193.85" y1="608.54" x2="193.85" y2="628.65" stroke="#1a1a1a" stroke-width="0.95"/>
<line x1="191.35" y1="608.54" x2="196.35" y2="608.54" stroke="#1a1a1a" stroke-width="0.95"/>
<line x1="191.35" y1="628.65" x2="196.35" y2="628.65" stroke="#1a1a1a" stroke-width="0.95"/>
<line x1="235.60" y1="601.83" x2="235.60" y2="618.59" stroke="#1a1a1a" stroke-width="0.95"/>
<line x1="233.10" y1="601.83" x2="238.10" y2="601.83" stroke="#1a1a1a" stroke-width="0.95"/>
<line x1="233.10" y1="618.59" x2="238.10" y2="618.59" stroke="#1a1a1a" stroke-width="0.95"/>
<line x1="110.35" y1="575.86" x2="110.35" y2="592.62" stroke="#1a1a1a" stroke-width="0.95"/>
<line x1="107.85" y1="575.86" x2="112.85" y2="575.86" stroke="#1a1a1a" stroke-width="0.95"/>
<line x1="107.85" y1="592.62" x2="112.85" y2="592.62" stroke="#1a1a1a" stroke-width="0.95"/>
<line x1="152.10" y1="609.04" x2="152.10" y2="624.12" stroke="#1a1a1a" stroke-width="0.95"/>
<line x1="149.60" y1="609.04" x2="154.60" y2="609.04" stroke="#1a1a1a" stroke-width="0.95"/>
<line x1="149.60" y1="624.12" x2="154.60" y2="624.12" stroke="#1a1a1a" stroke-width="0.95"/>
<line x1="193.85" y1="608.12" x2="193.85" y2="629.91" stroke="#1a1a1a" stroke-width="0.95"/>
<line x1="191.35" y1="608.12" x2="196.35" y2="608.12" stroke="#1a1a1a" stroke-width="0.95"/>
<line x1="191.35" y1="629.91" x2="196.35" y2="629.91" stroke="#1a1a1a" stroke-width="0.95"/>
<line x1="235.60" y1="603.51" x2="235.60" y2="616.92" stroke="#1a1a1a" stroke-width="0.95"/>
<line x1="233.10" y1="603.51" x2="238.10" y2="603.51" stroke="#1a1a1a" stroke-width="0.95"/>
<line x1="233.10" y1="616.92" x2="238.10" y2="616.92" stroke="#1a1a1a" stroke-width="0.95"/>
<line x1="110.35" y1="571.25" x2="110.35" y2="595.55" stroke="#1a1a1a" stroke-width="0.95"/>
<line x1="107.85" y1="571.25" x2="112.85" y2="571.25" stroke="#1a1a1a" stroke-width="0.95"/>
<line x1="107.85" y1="595.55" x2="112.85" y2="595.55" stroke="#1a1a1a" stroke-width="0.95"/>
<line x1="152.10" y1="588.01" x2="152.10" y2="611.47" stroke="#1a1a1a" stroke-width="0.95"/>
<line x1="149.60" y1="588.01" x2="154.60" y2="588.01" stroke="#1a1a1a" stroke-width="0.95"/>
<line x1="149.60" y1="611.47" x2="154.60" y2="611.47" stroke="#1a1a1a" stroke-width="0.95"/>
<line x1="193.85" y1="601.00" x2="193.85" y2="617.76" stroke="#1a1a1a" stroke-width="0.95"/>
<line x1="191.35" y1="601.00" x2="196.35" y2="601.00" stroke="#1a1a1a" stroke-width="0.95"/>
<line x1="191.35" y1="617.76" x2="196.35" y2="617.76" stroke="#1a1a1a" stroke-width="0.95"/>
<line x1="235.60" y1="580.05" x2="235.60" y2="601.83" stroke="#1a1a1a" stroke-width="0.95"/>
<line x1="233.10" y1="580.05" x2="238.10" y2="580.05" stroke="#1a1a1a" stroke-width="0.95"/>
<line x1="233.10" y1="601.83" x2="238.10" y2="601.83" stroke="#1a1a1a" stroke-width="0.95"/>
<polyline points="68.60,565.80 110.35,569.15 152.10,561.02 193.85,554.91 235.60,546.19" fill="none" stroke="#000" stroke-width="1.5"/>
<circle cx="68.60" cy="565.80" r="2.5" fill="#000"/>
<circle cx="110.35" cy="569.15" r="2.5" fill="#000"/>
<circle cx="152.10" cy="561.02" r="2.5" fill="#000"/>
<circle cx="193.85" cy="554.91" r="2.5" fill="#000"/>
<circle cx="235.60" cy="546.19" r="2.5" fill="#000"/>
<polyline points="68.60,565.80 110.35,578.37 152.10,577.95 193.85,583.73 235.60,572.50" fill="none" stroke="#3b9a2c" stroke-width="1.5"/>
<path d="M65.72,563.64 L71.47,563.64 L68.60,568.53 Z" fill="#3b9a2c"/>
<path d="M107.47,576.21 L113.22,576.21 L110.35,581.10 Z" fill="#3b9a2c"/>
<path d="M149.22,575.79 L154.97,575.79 L152.10,580.68 Z" fill="#3b9a2c"/>
<path d="M190.97,581.58 L196.72,581.58 L193.85,586.46 Z" fill="#3b9a2c"/>
<path d="M232.72,570.35 L238.47,570.35 L235.60,575.24 Z" fill="#3b9a2c"/>
<polyline points="68.60,565.80 110.35,563.29 152.10,561.61 193.85,575.27 235.60,570.49" fill="none" stroke="#3b9a2c" stroke-width="1.5" stroke-dasharray="4 2.6"/>
<circle cx="68.60" cy="565.80" r="2.5" fill="#3b9a2c"/>
<circle cx="110.35" cy="563.29" r="2.5" fill="#3b9a2c"/>
<circle cx="152.10" cy="561.61" r="2.5" fill="#3b9a2c"/>
<circle cx="193.85" cy="575.27" r="2.5" fill="#3b9a2c"/>
<circle cx="235.60" cy="570.49" r="2.5" fill="#3b9a2c"/>
<polyline points="68.60,565.80 110.35,582.56 152.10,615.24 193.85,621.11 235.60,626.14" fill="none" stroke="#7a22c4" stroke-width="1.5"/>
<path d="M65.72,563.64 L71.47,563.64 L68.60,568.53 Z" fill="#7a22c4"/>
<path d="M107.47,580.40 L113.22,580.40 L110.35,585.29 Z" fill="#7a22c4"/>
<path d="M149.22,613.09 L154.97,613.09 L152.10,617.97 Z" fill="#7a22c4"/>
<path d="M190.97,618.95 L196.72,618.95 L193.85,623.84 Z" fill="#7a22c4"/>
<path d="M232.72,623.98 L238.47,623.98 L235.60,628.87 Z" fill="#7a22c4"/>
<polyline points="68.60,565.80 110.35,567.48 152.10,599.74 193.85,618.59 235.60,610.21" fill="none" stroke="#7a22c4" stroke-width="1.5" stroke-dasharray="4 2.6"/>
<circle cx="68.60" cy="565.80" r="2.5" fill="#7a22c4"/>
<circle cx="110.35" cy="567.48" r="2.5" fill="#7a22c4"/>
<circle cx="152.10" cy="599.74" r="2.5" fill="#7a22c4"/>
<circle cx="193.85" cy="618.59" r="2.5" fill="#7a22c4"/>
<circle cx="235.60" cy="610.21" r="2.5" fill="#7a22c4"/>
<polyline points="68.60,565.80 110.35,584.24 152.10,616.58 193.85,619.01 235.60,610.21" fill="none" stroke="#ff2020" stroke-width="1.5"/>
<path d="M65.72,563.64 L71.47,563.64 L68.60,568.53 Z" fill="#ff2020"/>
<path d="M107.47,582.08 L113.22,582.08 L110.35,586.97 Z" fill="#ff2020"/>
<path d="M149.22,614.43 L154.97,614.43 L152.10,619.31 Z" fill="#ff2020"/>
<path d="M190.97,616.86 L196.72,616.86 L193.85,621.74 Z" fill="#ff2020"/>
<path d="M232.72,608.06 L238.47,608.06 L235.60,612.95 Z" fill="#ff2020"/>
<polyline points="68.60,565.80 110.35,583.40 152.10,599.74 193.85,609.38 235.60,590.94" fill="none" stroke="#ff2020" stroke-width="1.5" stroke-dasharray="4 2.6"/>
<circle cx="68.60" cy="565.80" r="2.5" fill="#ff2020"/>
<circle cx="110.35" cy="583.40" r="2.5" fill="#ff2020"/>
<circle cx="152.10" cy="599.74" r="2.5" fill="#ff2020"/>
<circle cx="193.85" cy="609.38" r="2.5" fill="#ff2020"/>
<circle cx="235.60" cy="590.94" r="2.5" fill="#ff2020"/>
<path d="M242.10000000000002,544.9 L244.3,544.9 L244.3,571.4 L242.10000000000002,571.4" fill="none" stroke="#1a1a1a" stroke-width="1.3"/>
<text x="248.6" y="562.8" font-size="10" font-weight="bold" text-anchor="start" fill="#000" textLength="11.2" lengthAdjust="spacingAndGlyphs" >ns</text>
<path d="M260.90000000000003,544.9 L263.1,544.9 L263.1,608.8 L260.90000000000003,608.8" fill="none" stroke="#1a1a1a" stroke-width="1.3"/>
<path d="M278.8,544.4 L281.0,544.4 L281.0,625.3 L278.8,625.3" fill="none" stroke="#1a1a1a" stroke-width="1.3"/>
<line x1="271.10" y1="573.30" x2="276.90" y2="573.30" stroke="#000" stroke-width="1.25" stroke-linecap="round"/>
<line x1="272.55" y1="570.79" x2="275.45" y2="575.81" stroke="#000" stroke-width="1.25" stroke-linecap="round"/>
<line x1="275.45" y1="570.79" x2="272.55" y2="575.81" stroke="#000" stroke-width="1.25" stroke-linecap="round"/>
<circle cx="274.0" cy="573.3" r="1.1" fill="#000"/>
<line x1="271.10" y1="580.90" x2="276.90" y2="580.90" stroke="#000" stroke-width="1.25" stroke-linecap="round"/>
<line x1="272.55" y1="578.39" x2="275.45" y2="583.41" stroke="#000" stroke-width="1.25" stroke-linecap="round"/>
<line x1="275.45" y1="578.39" x2="272.55" y2="583.41" stroke="#000" stroke-width="1.25" stroke-linecap="round"/>
<circle cx="274.0" cy="580.9" r="1.1" fill="#000"/>
<line x1="288.90" y1="581.50" x2="294.70" y2="581.50" stroke="#000" stroke-width="1.25" stroke-linecap="round"/>
<line x1="290.35" y1="578.99" x2="293.25" y2="584.01" stroke="#000" stroke-width="1.25" stroke-linecap="round"/>
<line x1="293.25" y1="578.99" x2="290.35" y2="584.01" stroke="#000" stroke-width="1.25" stroke-linecap="round"/>
<circle cx="291.8" cy="581.5" r="1.1" fill="#000"/>
<line x1="288.90" y1="589.00" x2="294.70" y2="589.00" stroke="#000" stroke-width="1.25" stroke-linecap="round"/>
<line x1="290.35" y1="586.49" x2="293.25" y2="591.51" stroke="#000" stroke-width="1.25" stroke-linecap="round"/>
<line x1="293.25" y1="586.49" x2="290.35" y2="591.51" stroke="#000" stroke-width="1.25" stroke-linecap="round"/>
<circle cx="291.8" cy="589.0" r="1.1" fill="#000"/>
<line x1="302.5" y1="534.5" x2="315.8" y2="534.5" stroke="#ff2020" stroke-width="1.4" stroke-dasharray="2.4 2.2"/>
<circle cx="309.20" cy="534.50" r="2.4" fill="#ff2020"/>
<text x="323.7" y="539.00" font-size="10.5" fill="#222">Hong Kong 10<tspan font-size="7.6" dy="-5.2">5</tspan></text>
<line x1="302.5" y1="553.0" x2="315.8" y2="553.0" stroke="#ff2020" stroke-width="1.4"/>
<path d="M306.44,550.93 L311.96,550.93 L309.20,555.62 Z" fill="#ff2020"/>
<text x="323.7" y="557.50" font-size="10.5" fill="#222">Hong Kong 10<tspan font-size="7.6" dy="-5.2">6</tspan></text>
<line x1="302.5" y1="571.9" x2="315.8" y2="571.9" stroke="#7a22c4" stroke-width="1.4" stroke-dasharray="2.4 2.2"/>
<circle cx="309.20" cy="571.90" r="2.4" fill="#7a22c4"/>
<text x="323.7" y="576.40" font-size="10.5" fill="#222">Delta 10<tspan font-size="7.6" dy="-5.2">5</tspan></text>
<line x1="302.5" y1="590.8" x2="315.8" y2="590.8" stroke="#7a22c4" stroke-width="1.4"/>
<path d="M306.44,588.73 L311.96,588.73 L309.20,593.42 Z" fill="#7a22c4"/>
<text x="323.7" y="595.30" font-size="10.5" fill="#222">Delta 10<tspan font-size="7.6" dy="-5.2">6</tspan></text>
<line x1="302.5" y1="609.6" x2="315.8" y2="609.6" stroke="#3b9a2c" stroke-width="1.4" stroke-dasharray="2.4 2.2"/>
<circle cx="309.20" cy="609.60" r="2.4" fill="#3b9a2c"/>
<text x="323.7" y="614.10" font-size="10.5" fill="#222">Omicron 10<tspan font-size="7.6" dy="-5.2">5</tspan></text>
<line x1="302.5" y1="628.5" x2="315.8" y2="628.5" stroke="#3b9a2c" stroke-width="1.4"/>
<path d="M306.44,626.43 L311.96,626.43 L309.20,631.12 Z" fill="#3b9a2c"/>
<text x="323.7" y="633.00" font-size="10.5" fill="#222">Omicron 10<tspan font-size="7.6" dy="-5.2">6</tspan></text>
<line x1="302.5" y1="645.2" x2="315.8" y2="645.2" stroke="#000" stroke-width="1.4"/>
<circle cx="309.20" cy="645.20" r="2.4" fill="#000"/>
<text x="323.7" y="649.70" font-size="10.5" fill="#222">Uninfected control</text>
<text x="411.8" y="491.2" font-size="22" font-weight="bold" text-anchor="start" fill="#000" >e</text>
<text x="562.6" y="488.0" font-size="16.3" font-weight="bold" text-anchor="middle" fill="#000" textLength="96.5" lengthAdjust="spacingAndGlyphs" >Clinical score</text>
<line x1="458.7" y1="521.4" x2="458.7" y2="647.0" stroke="#000" stroke-width="1.3"/>
<line x1="458.0" y1="646.3" x2="647.7" y2="646.3" stroke="#000" stroke-width="1.3"/>
<line x1="453.5" y1="646.40" x2="458.7" y2="646.40" stroke="#000" stroke-width="1.3"/>
<text x="451.8" y="650.7" font-size="11.3" font-weight="bold" text-anchor="end" fill="#000" >0</text>
<line x1="453.5" y1="621.40" x2="458.7" y2="621.40" stroke="#000" stroke-width="1.3"/>
<text x="451.8" y="625.7" font-size="11.3" font-weight="bold" text-anchor="end" fill="#000" >1</text>
<line x1="453.5" y1="596.40" x2="458.7" y2="596.40" stroke="#000" stroke-width="1.3"/>
<text x="451.8" y="600.7" font-size="11.3" font-weight="bold" text-anchor="end" fill="#000" >2</text>
<line x1="453.5" y1="571.40" x2="458.7" y2="571.40" stroke="#000" stroke-width="1.3"/>
<text x="451.8" y="575.7" font-size="11.3" font-weight="bold" text-anchor="end" fill="#000" >3</text>
<line x1="453.5" y1="546.40" x2="458.7" y2="546.40" stroke="#000" stroke-width="1.3"/>
<text x="451.8" y="550.7" font-size="11.3" font-weight="bold" text-anchor="end" fill="#000" >4</text>
<line x1="453.5" y1="521.40" x2="458.7" y2="521.40" stroke="#000" stroke-width="1.3"/>
<text x="451.8" y="525.7" font-size="11.3" font-weight="bold" text-anchor="end" fill="#000" >5</text>
<line x1="458.60" y1="646.3" x2="458.60" y2="651.5" stroke="#000" stroke-width="1.3"/>
<text x="458.6" y="665.3" font-size="11.3" font-weight="bold" text-anchor="middle" fill="#000" >0</text>
<line x1="500.50" y1="646.3" x2="500.50" y2="651.5" stroke="#000" stroke-width="1.3"/>
<text x="500.5" y="665.3" font-size="11.3" font-weight="bold" text-anchor="middle" fill="#000" >1</text>
<line x1="542.40" y1="646.3" x2="542.40" y2="651.5" stroke="#000" stroke-width="1.3"/>
<text x="542.4" y="665.3" font-size="11.3" font-weight="bold" text-anchor="middle" fill="#000" >2</text>
<line x1="584.30" y1="646.3" x2="584.30" y2="651.5" stroke="#000" stroke-width="1.3"/>
<text x="584.3" y="665.3" font-size="11.3" font-weight="bold" text-anchor="middle" fill="#000" >3</text>
<line x1="626.20" y1="646.3" x2="626.20" y2="651.5" stroke="#000" stroke-width="1.3"/>
<text x="626.2" y="665.3" font-size="11.3" font-weight="bold" text-anchor="middle" fill="#000" >4</text>
<text x="552.9" y="681.7" font-size="12" font-weight="bold" text-anchor="middle" fill="#000" textLength="169.9" lengthAdjust="spacingAndGlyphs" >Days post-challenge infection</text>
<text transform="translate(436.0,582.5) rotate(-90)" x="0" y="0" font-size="12" font-weight="bold" text-anchor="middle" textLength="78.4" lengthAdjust="spacingAndGlyphs">Clinical score</text>
<line x1="500.50" y1="621.40" x2="500.50" y2="637.90" stroke="#1a1a1a" stroke-width="0.95"/>
<line x1="498.00" y1="621.40" x2="503.00" y2="621.40" stroke="#1a1a1a" stroke-width="0.95"/>
<line x1="498.00" y1="637.90" x2="503.00" y2="637.90" stroke="#1a1a1a" stroke-width="0.95"/>
<line x1="542.40" y1="630.65" x2="542.40" y2="645.65" stroke="#1a1a1a" stroke-width="0.95"/>
<line x1="539.90" y1="630.65" x2="544.90" y2="630.65" stroke="#1a1a1a" stroke-width="0.95"/>
<line x1="539.90" y1="645.65" x2="544.90" y2="645.65" stroke="#1a1a1a" stroke-width="0.95"/>
<line x1="584.30" y1="630.65" x2="584.30" y2="645.65" stroke="#1a1a1a" stroke-width="0.95"/>
<line x1="581.80" y1="630.65" x2="586.80" y2="630.65" stroke="#1a1a1a" stroke-width="0.95"/>
<line x1="581.80" y1="645.65" x2="586.80" y2="645.65" stroke="#1a1a1a" stroke-width="0.95"/>
<line x1="626.20" y1="608.15" x2="626.20" y2="633.15" stroke="#1a1a1a" stroke-width="0.95"/>
<line x1="623.70" y1="608.15" x2="628.70" y2="608.15" stroke="#1a1a1a" stroke-width="0.95"/>
<line x1="623.70" y1="633.15" x2="628.70" y2="633.15" stroke="#1a1a1a" stroke-width="0.95"/>
<line x1="500.50" y1="627.65" x2="500.50" y2="640.15" stroke="#1a1a1a" stroke-width="0.95"/>
<line x1="498.00" y1="627.65" x2="503.00" y2="627.65" stroke="#1a1a1a" stroke-width="0.95"/>
<line x1="498.00" y1="640.15" x2="503.00" y2="640.15" stroke="#1a1a1a" stroke-width="0.95"/>
<line x1="542.40" y1="618.90" x2="542.40" y2="636.40" stroke="#1a1a1a" stroke-width="0.95"/>
<line x1="539.90" y1="618.90" x2="544.90" y2="618.90" stroke="#1a1a1a" stroke-width="0.95"/>
<line x1="539.90" y1="636.40" x2="544.90" y2="636.40" stroke="#1a1a1a" stroke-width="0.95"/>
<line x1="584.30" y1="621.40" x2="584.30" y2="633.90" stroke="#1a1a1a" stroke-width="0.95"/>
<line x1="581.80" y1="621.40" x2="586.80" y2="621.40" stroke="#1a1a1a" stroke-width="0.95"/>
<line x1="581.80" y1="633.90" x2="586.80" y2="633.90" stroke="#1a1a1a" stroke-width="0.95"/>
<line x1="626.20" y1="617.15" x2="626.20" y2="638.15" stroke="#1a1a1a" stroke-width="0.95"/>
<line x1="623.70" y1="617.15" x2="628.70" y2="617.15" stroke="#1a1a1a" stroke-width="0.95"/>
<line x1="623.70" y1="638.15" x2="628.70" y2="638.15" stroke="#1a1a1a" stroke-width="0.95"/>
<line x1="500.50" y1="597.15" x2="500.50" y2="612.15" stroke="#1a1a1a" stroke-width="0.95"/>
<line x1="498.00" y1="597.15" x2="503.00" y2="597.15" stroke="#1a1a1a" stroke-width="0.95"/>
<line x1="498.00" y1="612.15" x2="503.00" y2="612.15" stroke="#1a1a1a" stroke-width="0.95"/>
<line x1="542.40" y1="573.90" x2="542.40" y2="618.90" stroke="#1a1a1a" stroke-width="0.95"/>
<line x1="539.90" y1="573.90" x2="544.90" y2="573.90" stroke="#1a1a1a" stroke-width="0.95"/>
<line x1="539.90" y1="618.90" x2="544.90" y2="618.90" stroke="#1a1a1a" stroke-width="0.95"/>
<line x1="584.30" y1="548.65" x2="584.30" y2="576.15" stroke="#1a1a1a" stroke-width="0.95"/>
<line x1="581.80" y1="548.65" x2="586.80" y2="548.65" stroke="#1a1a1a" stroke-width="0.95"/>
<line x1="581.80" y1="576.15" x2="586.80" y2="576.15" stroke="#1a1a1a" stroke-width="0.95"/>
<line x1="626.20" y1="541.15" x2="626.20" y2="583.65" stroke="#1a1a1a" stroke-width="0.95"/>
<line x1="623.70" y1="541.15" x2="628.70" y2="541.15" stroke="#1a1a1a" stroke-width="0.95"/>
<line x1="623.70" y1="583.65" x2="628.70" y2="583.65" stroke="#1a1a1a" stroke-width="0.95"/>
<line x1="500.50" y1="592.65" x2="500.50" y2="612.65" stroke="#1a1a1a" stroke-width="0.95"/>
<line x1="498.00" y1="592.65" x2="503.00" y2="592.65" stroke="#1a1a1a" stroke-width="0.95"/>
<line x1="498.00" y1="612.65" x2="503.00" y2="612.65" stroke="#1a1a1a" stroke-width="0.95"/>
<line x1="542.40" y1="569.40" x2="542.40" y2="598.40" stroke="#1a1a1a" stroke-width="0.95"/>
<line x1="539.90" y1="569.40" x2="544.90" y2="569.40" stroke="#1a1a1a" stroke-width="0.95"/>
<line x1="539.90" y1="598.40" x2="544.90" y2="598.40" stroke="#1a1a1a" stroke-width="0.95"/>
<line x1="584.30" y1="567.65" x2="584.30" y2="600.15" stroke="#1a1a1a" stroke-width="0.95"/>
<line x1="581.80" y1="567.65" x2="586.80" y2="567.65" stroke="#1a1a1a" stroke-width="0.95"/>
<line x1="581.80" y1="600.15" x2="586.80" y2="600.15" stroke="#1a1a1a" stroke-width="0.95"/>
<line x1="626.20" y1="550.15" x2="626.20" y2="592.65" stroke="#1a1a1a" stroke-width="0.95"/>
<line x1="623.70" y1="550.15" x2="628.70" y2="550.15" stroke="#1a1a1a" stroke-width="0.95"/>
<line x1="623.70" y1="592.65" x2="628.70" y2="592.65" stroke="#1a1a1a" stroke-width="0.95"/>
<line x1="500.50" y1="581.15" x2="500.50" y2="622.65" stroke="#1a1a1a" stroke-width="0.95"/>
<line x1="498.00" y1="581.15" x2="503.00" y2="581.15" stroke="#1a1a1a" stroke-width="0.95"/>
<line x1="498.00" y1="622.65" x2="503.00" y2="622.65" stroke="#1a1a1a" stroke-width="0.95"/>
<line x1="542.40" y1="569.65" x2="542.40" y2="609.65" stroke="#1a1a1a" stroke-width="0.95"/>
<line x1="539.90" y1="569.65" x2="544.90" y2="569.65" stroke="#1a1a1a" stroke-width="0.95"/>
<line x1="539.90" y1="609.65" x2="544.90" y2="609.65" stroke="#1a1a1a" stroke-width="0.95"/>
<line x1="584.30" y1="543.40" x2="584.30" y2="573.40" stroke="#1a1a1a" stroke-width="0.95"/>
<line x1="581.80" y1="543.40" x2="586.80" y2="543.40" stroke="#1a1a1a" stroke-width="0.95"/>
<line x1="581.80" y1="573.40" x2="586.80" y2="573.40" stroke="#1a1a1a" stroke-width="0.95"/>
<line x1="626.20" y1="547.90" x2="626.20" y2="605.40" stroke="#1a1a1a" stroke-width="0.95"/>
<line x1="623.70" y1="547.90" x2="628.70" y2="547.90" stroke="#1a1a1a" stroke-width="0.95"/>
<line x1="623.70" y1="605.40" x2="628.70" y2="605.40" stroke="#1a1a1a" stroke-width="0.95"/>
<line x1="500.50" y1="600.15" x2="500.50" y2="625.15" stroke="#1a1a1a" stroke-width="0.95"/>
<line x1="498.00" y1="600.15" x2="503.00" y2="600.15" stroke="#1a1a1a" stroke-width="0.95"/>
<line x1="498.00" y1="625.15" x2="503.00" y2="625.15" stroke="#1a1a1a" stroke-width="0.95"/>
<line x1="542.40" y1="567.65" x2="542.40" y2="625.15" stroke="#1a1a1a" stroke-width="0.95"/>
<line x1="539.90" y1="567.65" x2="544.90" y2="567.65" stroke="#1a1a1a" stroke-width="0.95"/>
<line x1="539.90" y1="625.15" x2="544.90" y2="625.15" stroke="#1a1a1a" stroke-width="0.95"/>
<line x1="584.30" y1="532.65" x2="584.30" y2="577.65" stroke="#1a1a1a" stroke-width="0.95"/>
<line x1="581.80" y1="532.65" x2="586.80" y2="532.65" stroke="#1a1a1a" stroke-width="0.95"/>
<line x1="581.80" y1="577.65" x2="586.80" y2="577.65" stroke="#1a1a1a" stroke-width="0.95"/>
<line x1="626.20" y1="562.90" x2="626.20" y2="612.90" stroke="#1a1a1a" stroke-width="0.95"/>
<line x1="623.70" y1="562.90" x2="628.70" y2="562.90" stroke="#1a1a1a" stroke-width="0.95"/>
<line x1="623.70" y1="612.90" x2="628.70" y2="612.90" stroke="#1a1a1a" stroke-width="0.95"/>
<polyline points="458.60,646.40 500.50,646.40 542.40,646.40 584.30,646.40 626.20,646.40" fill="none" stroke="#000" stroke-width="1.5"/>
<circle cx="458.60" cy="646.40" r="2.5" fill="#000"/>
<circle cx="500.50" cy="646.40" r="2.5" fill="#000"/>
<circle cx="542.40" cy="646.40" r="2.5" fill="#000"/>
<circle cx="584.30" cy="646.40" r="2.5" fill="#000"/>
<circle cx="626.20" cy="646.40" r="2.5" fill="#000"/>
<polyline points="458.60,646.40 500.50,629.65 542.40,638.15 584.30,638.15 626.20,620.65" fill="none" stroke="#3b9a2c" stroke-width="1.5"/>
<path d="M455.73,644.24 L461.48,644.24 L458.60,649.13 Z" fill="#3b9a2c"/>
<path d="M497.62,627.49 L503.38,627.49 L500.50,632.38 Z" fill="#3b9a2c"/>
<path d="M539.52,635.99 L545.27,635.99 L542.40,640.88 Z" fill="#3b9a2c"/>
<path d="M581.42,635.99 L587.17,635.99 L584.30,640.88 Z" fill="#3b9a2c"/>
<path d="M623.33,618.49 L629.08,618.49 L626.20,623.38 Z" fill="#3b9a2c"/>
<polyline points="458.60,646.40 500.50,633.90 542.40,627.65 584.30,627.65 626.20,627.65" fill="none" stroke="#3b9a2c" stroke-width="1.5" stroke-dasharray="1.6 2.4"/>
<circle cx="458.60" cy="646.40" r="2.5" fill="#3b9a2c"/>
<circle cx="500.50" cy="633.90" r="2.5" fill="#3b9a2c"/>
<circle cx="542.40" cy="627.65" r="2.5" fill="#3b9a2c"/>
<circle cx="584.30" cy="627.65" r="2.5" fill="#3b9a2c"/>
<circle cx="626.20" cy="627.65" r="2.5" fill="#3b9a2c"/>
<polyline points="458.60,646.40 500.50,604.65 542.40,596.40 584.30,562.40 626.20,562.40" fill="none" stroke="#7a22c4" stroke-width="1.5"/>
<path d="M455.73,644.24 L461.48,644.24 L458.60,649.13 Z" fill="#7a22c4"/>
<path d="M497.62,602.49 L503.38,602.49 L500.50,607.38 Z" fill="#7a22c4"/>
<path d="M539.52,594.24 L545.27,594.24 L542.40,599.13 Z" fill="#7a22c4"/>
<path d="M581.42,560.24 L587.17,560.24 L584.30,565.13 Z" fill="#7a22c4"/>
<path d="M623.33,560.24 L629.08,560.24 L626.20,565.13 Z" fill="#7a22c4"/>
<polyline points="458.60,646.40 500.50,602.65 542.40,583.90 584.30,583.90 626.20,571.40" fill="none" stroke="#7a22c4" stroke-width="1.5" stroke-dasharray="1.6 2.4"/>
<circle cx="458.60" cy="646.40" r="2.5" fill="#7a22c4"/>
<circle cx="500.50" cy="602.65" r="2.5" fill="#7a22c4"/>
<circle cx="542.40" cy="583.90" r="2.5" fill="#7a22c4"/>
<circle cx="584.30" cy="583.90" r="2.5" fill="#7a22c4"/>
<circle cx="626.20" cy="571.40" r="2.5" fill="#7a22c4"/>
<polyline points="458.60,646.40 500.50,601.90 542.40,589.65 584.30,558.40 626.20,576.65" fill="none" stroke="#ff2020" stroke-width="1.5"/>
<path d="M455.73,644.24 L461.48,644.24 L458.60,649.13 Z" fill="#ff2020"/>
<path d="M497.62,599.74 L503.38,599.74 L500.50,604.63 Z" fill="#ff2020"/>
<path d="M539.52,587.49 L545.27,587.49 L542.40,592.38 Z" fill="#ff2020"/>
<path d="M581.42,556.24 L587.17,556.24 L584.30,561.13 Z" fill="#ff2020"/>
<path d="M623.33,574.49 L629.08,574.49 L626.20,579.38 Z" fill="#ff2020"/>
<polyline points="458.60,646.40 500.50,612.65 542.40,596.40 584.30,555.15 626.20,587.90" fill="none" stroke="#ff2020" stroke-width="1.5" stroke-dasharray="1.6 2.4"/>
<circle cx="458.60" cy="646.40" r="2.5" fill="#ff2020"/>
<circle cx="500.50" cy="612.65" r="2.5" fill="#ff2020"/>
<circle cx="542.40" cy="596.40" r="2.5" fill="#ff2020"/>
<circle cx="584.30" cy="555.15" r="2.5" fill="#ff2020"/>
<circle cx="626.20" cy="587.90" r="2.5" fill="#ff2020"/>
<path d="M633.6,618.0 L635.9,618.0 L635.9,644.2 L633.6,644.2" fill="none" stroke="#1a1a1a" stroke-width="1.3"/>
<text x="640.0" y="635.0" font-size="8.8" text-anchor="start" fill="#111" textLength="9.2" lengthAdjust="spacingAndGlyphs" stroke="#111" stroke-width="0.2">ns</text>
<path d="M649.0,577.3 L651.4,577.3 L651.4,646.0 L649.0,646.0" fill="none" stroke="#1a1a1a" stroke-width="1.3"/>
<path d="M661.8000000000001,561.5 L664.2,561.5 L664.2,645.2 L661.8000000000001,645.2" fill="none" stroke="#1a1a1a" stroke-width="1.3"/>
<line x1="658.40" y1="609.30" x2="658.40" y2="615.10" stroke="#000" stroke-width="1.25" stroke-linecap="round"/>
<line x1="660.91" y1="610.75" x2="655.89" y2="613.65" stroke="#000" stroke-width="1.25" stroke-linecap="round"/>
<line x1="660.91" y1="613.65" x2="655.89" y2="610.75" stroke="#000" stroke-width="1.25" stroke-linecap="round"/>
<circle cx="658.4" cy="612.2" r="1.1" fill="#000"/>
<line x1="671.00" y1="600.30" x2="676.80" y2="600.30" stroke="#000" stroke-width="1.25" stroke-linecap="round"/>
<line x1="672.45" y1="597.79" x2="675.35" y2="602.81" stroke="#000" stroke-width="1.25" stroke-linecap="round"/>
<line x1="675.35" y1="597.79" x2="672.45" y2="602.81" stroke="#000" stroke-width="1.25" stroke-linecap="round"/>
<circle cx="673.9" cy="600.3" r="1.1" fill="#000"/>
<line x1="671.00" y1="607.50" x2="676.80" y2="607.50" stroke="#000" stroke-width="1.25" stroke-linecap="round"/>
<line x1="672.45" y1="604.99" x2="675.35" y2="610.01" stroke="#000" stroke-width="1.25" stroke-linecap="round"/>
<line x1="675.35" y1="604.99" x2="672.45" y2="610.01" stroke="#000" stroke-width="1.25" stroke-linecap="round"/>
<circle cx="673.9" cy="607.5" r="1.1" fill="#000"/>
</svg>
</body></html>
